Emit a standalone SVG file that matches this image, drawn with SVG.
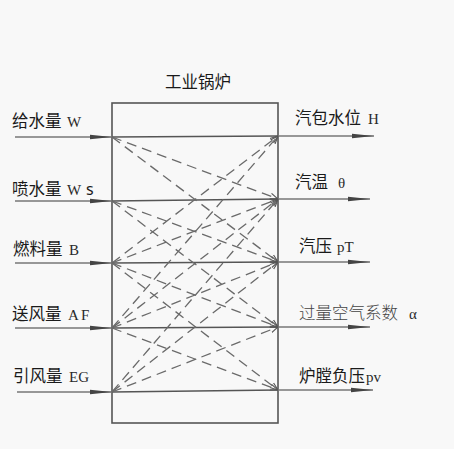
<svg xmlns="http://www.w3.org/2000/svg" width="454" height="449" viewBox="0 0 454 449">
<style>
.cjk{font-family:"Noto Sans CJK SC","Noto Sans",sans-serif;font-size:16.5px;fill:#1a1a1a}
.lat{font-family:"Liberation Serif","DejaVu Serif",serif;font-size:15px;fill:#2a2a2a}
.sans{font-family:"Noto Sans","Liberation Sans",sans-serif;font-size:16px;fill:#1a1a1a}
.in{stroke:#777;stroke-width:1.6;fill:none}
.thru{stroke:#555;stroke-width:1.4;fill:none}
.dash{stroke:#6a6a6a;stroke-width:1.3;stroke-dasharray:10 6;fill:none}
.box{stroke:#555;stroke-width:1.6;fill:none}
</style>
<defs>
<marker id="ah" viewBox="0 0 22 6" refX="22" refY="3" markerWidth="22" markerHeight="6" markerUnits="userSpaceOnUse" orient="auto">
<path d="M0,0.8 L22,3 L0,5.2 Z" fill="#444"/>
</marker>
<marker id="dh" viewBox="0 0 8 8" refX="8" refY="4" markerWidth="8" markerHeight="8" markerUnits="userSpaceOnUse" orient="auto">
<path d="M0,1 L8,4 L0,7" fill="none" stroke="#555" stroke-width="1.1"/>
</marker>
</defs>
<rect width="454" height="449" fill="#f8f8f8"/>
<g id="boiler">
<rect class="box" x="112" y="103" width="166" height="320"/>
<text class="cjk" x="165" y="88">工业锅炉</text>
</g>
<g id="connectors">
<line class="in" x1="15" y1="137" x2="112" y2="137" marker-end="url(#ah)"/>
<line class="in" x1="15" y1="201" x2="112" y2="201" marker-end="url(#ah)"/>
<line class="in" x1="15" y1="263" x2="112" y2="263" marker-end="url(#ah)"/>
<line class="in" x1="15" y1="328" x2="112" y2="328" marker-end="url(#ah)"/>
<line class="in" x1="17" y1="392" x2="112" y2="392" marker-end="url(#ah)"/>
<line class="thru" x1="112" y1="137" x2="278" y2="136"/>
<line class="thru" x1="112" y1="201" x2="278" y2="199" stroke-width="1.8"/>
<line class="thru" x1="112" y1="263" x2="278" y2="262" stroke-width="1"/>
<line class="thru" x1="112" y1="328" x2="278" y2="327"/>
<line class="thru" x1="112" y1="392" x2="278" y2="390"/>
<line class="in" x1="278" y1="136" x2="374" y2="136" marker-end="url(#ah)"/>
<line class="in" x1="278" y1="199" x2="370" y2="199" marker-end="url(#ah)"/>
<line class="in" x1="278" y1="262" x2="370" y2="262" marker-end="url(#ah)"/>
<line class="in" x1="278" y1="327" x2="370" y2="327" marker-end="url(#ah)"/>
<line class="in" x1="278" y1="390" x2="373" y2="390" marker-end="url(#ah)"/>
<line class="dash" x1="112" y1="137" x2="278" y2="199" marker-end="url(#dh)"/>
<line class="dash" x1="112" y1="137" x2="278" y2="262" marker-end="url(#dh)"/>
<line class="dash" x1="112" y1="201" x2="278" y2="262" marker-end="url(#dh)"/>
<line class="dash" x1="112" y1="201" x2="278" y2="327" marker-end="url(#dh)"/>
<line class="dash" x1="112" y1="263" x2="278" y2="136" marker-end="url(#dh)"/>
<line class="dash" x1="112" y1="263" x2="278" y2="199" marker-end="url(#dh)"/>
<line class="dash" x1="112" y1="263" x2="278" y2="327" marker-end="url(#dh)"/>
<line class="dash" x1="112" y1="263" x2="278" y2="390" marker-end="url(#dh)"/>
<line class="dash" x1="112" y1="328" x2="278" y2="136" marker-end="url(#dh)"/>
<line class="dash" x1="112" y1="328" x2="278" y2="199" marker-end="url(#dh)"/>
<line class="dash" x1="112" y1="328" x2="278" y2="262" marker-end="url(#dh)"/>
<line class="dash" x1="112" y1="328" x2="278" y2="390" marker-end="url(#dh)"/>
<line class="dash" x1="112" y1="392" x2="278" y2="199" marker-end="url(#dh)"/>
<line class="dash" x1="112" y1="392" x2="278" y2="262" marker-end="url(#dh)"/>
<line class="dash" x1="112" y1="392" x2="278" y2="327" marker-end="url(#dh)"/>
</g>
<g id="in-W"><text class="cjk" x="12" y="127">给水量</text><text class="lat" x="67" y="127">W</text></g>
<g id="in-Ws"><text class="cjk" x="12" y="195">喷水量</text><text class="lat" x="67" y="195">W</text><text class="sans" x="86" y="195">s</text></g>
<g id="in-B"><text class="cjk" x="13" y="255">燃料量</text><text class="lat" x="69" y="255">B</text></g>
<g id="in-AF"><text class="cjk" x="12" y="320">送风量</text><text class="lat" x="68" y="320">A</text><text class="lat" x="81" y="320">F</text></g>
<g id="in-EG"><text class="cjk" x="13" y="382">引风量</text><text class="lat" x="69" y="382">EG</text></g>
<g id="out-H"><text class="cjk" x="295" y="124">汽包水位</text><text class="lat" x="368" y="124">H</text></g>
<g id="out-theta"><text class="cjk" x="295" y="188">汽温</text><text class="lat" x="338" y="188">θ</text></g>
<g id="out-pT"><text class="cjk" x="299" y="252">汽压</text><text class="lat" x="337" y="252">pT</text></g>
<g id="out-alpha"><text class="cjk" x="299" y="319" style="fill:#444;font-weight:300">过量空气系数</text><text class="lat" x="409" y="319">α</text></g>
<g id="out-pv"><text class="cjk" x="299" y="382">炉膛负压</text><text class="lat" x="366" y="382">pv</text></g>
</svg>
